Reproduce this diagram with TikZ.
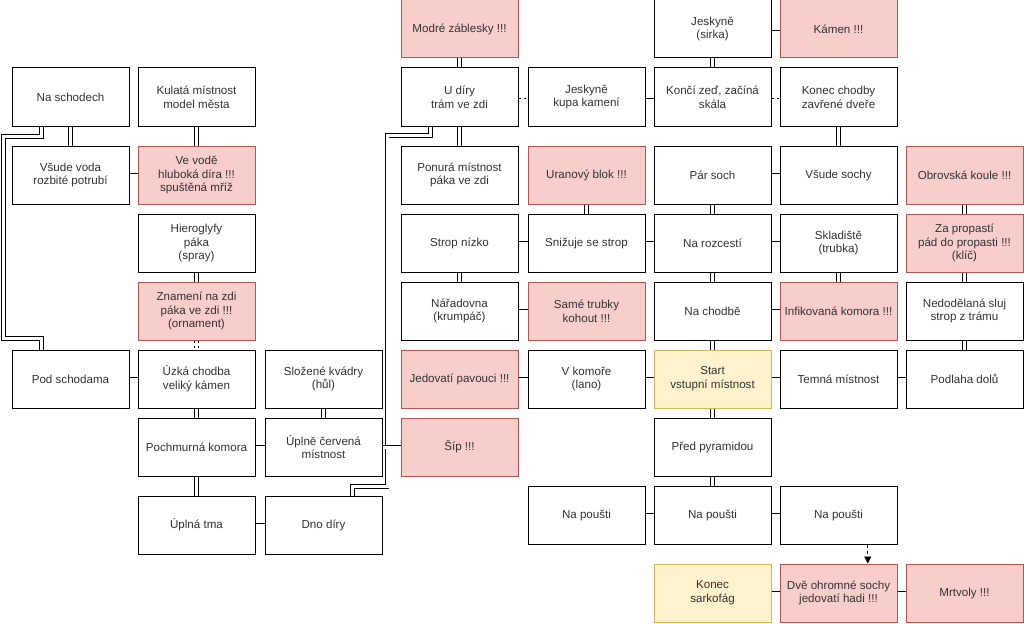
\documentclass[tikz,border=0pt]{standalone}
\usepackage{fontspec}
\setmainfont{Liberation Sans}
\usetikzlibrary{arrows.meta}
\definecolor{redfill}{HTML}{F8CECC}
\definecolor{redline}{HTML}{B85450}
\definecolor{yelfill}{HTML}{FFF2CC}
\definecolor{yelline}{HTML}{D6B656}
\definecolor{txt}{HTML}{333333}
\begin{document}
\begin{tikzpicture}[x=1pt,y=-1pt,
  room/.style={draw=black, fill=white, line width=1pt, minimum width=117pt, minimum height=58pt,
    inner sep=1pt, align=center, text=txt, font=\fontsize{11.6}{13.8}\selectfont},
  danger/.style={room, draw=redline, fill=redfill},
  goal/.style={room, draw=yelline, fill=yelfill},
  link/.style={draw=black, line width=0.8pt, double=white, double distance=3pt},
  dlink/.style={link, dash pattern=on 2.5pt off 2.5pt},
  arr/.style={draw=black, line width=0.8pt, dash pattern=on 3pt off 3pt, -{Triangle[length=7pt,width=7pt]}}]
\useasboundingbox (0,0) rectangle (1024,623);
% left part
\node[room]   (A1) at (70.5,97)  {Na schodech};
\node[room]   (B1) at (196.5,97) {Kulatá místnost\\model města};
\node[room]   (A2) at (70.5,175) {Všude voda\\rozbité potrubí};
\node[danger] (B2) at (196.5,175) {Ve vodě\\hluboká díra !!!\\spuštěná mříž};
\node[room]   (B3) at (196.5,243) {Hieroglyfy\\páka\\(spray)};
\node[danger] (B4) at (196.5,311) {Znamení na zdi\\páka ve zdi !!!\\(ornament)};
\node[room]   (A5) at (70.5,379) {Pod schodama};
\node[room]   (B5) at (196.5,379) {Úzká chodba\\veliký kámen};
\node[room]   (C5) at (323.5,379) {Složené kvádry\\(hůl)};
\node[room]   (B6) at (196.5,447) {Pochmurná komora};
\node[room]   (C6) at (323.5,447) {Úplně červená\\místnost};
\node[room]   (B7) at (196.5,525) {Úplná tma};
\node[room]   (C7) at (323.5,525) {Dno díry};
% right part
\node[danger] (D0) at (459.5,29) {Modré záblesky !!!};
\node[room]   (F0) at (712.5,29) {Jeskyně\\(sirka)};
\node[danger] (G0) at (838.5,29) {Kámen !!!};
\node[room]   (D1) at (459.5,97) {U díry\\trám ve zdi};
\node[room]   (E1) at (586.5,97) {Jeskyně\\kupa kamení};
\node[room]   (F1) at (712.5,97) {Končí zeď, začíná\\skála};
\node[room]   (G1) at (838.5,97) {Konec chodby\\zavřené dveře};
\node[room]   (D2) at (459.5,175) {Ponurá místnost\\páka ve zdi};
\node[danger] (E2) at (586.5,175) {Uranový blok !!!};
\node[room]   (F2) at (712.5,175) {Pár soch};
\node[room]   (G2) at (838.5,175) {Všude sochy};
\node[danger] (H2) at (964.5,175) {Obrovská koule !!!};
\node[room]   (D3) at (459.5,243) {Strop nízko};
\node[room]   (E3) at (586.5,243) {Snižuje se strop};
\node[room]   (F3) at (712.5,243) {Na rozcestí};
\node[room]   (G3) at (838.5,243) {Skladiště\\(trubka)};
\node[danger] (H3) at (964.5,243) {Za propastí\\pád do propasti !!!\\(klíč)};
\node[room]   (D4) at (459.5,311) {Nářadovna\\(krumpáč)};
\node[danger] (E4) at (586.5,311) {Samé trubky\\kohout !!!};
\node[room]   (F4) at (712.5,311) {Na chodbě};
\node[danger] (G4) at (838.5,311) {Infikovaná komora !!!};
\node[room]   (H4) at (964.5,311) {Nedodělaná sluj\\strop z trámu};
\node[danger] (D5) at (459.5,379) {Jedovatí pavouci !!!};
\node[room]   (E5) at (586.5,379) {V komoře\\(lano)};
\node[goal]   (F5) at (712.5,379) {Start\\vstupní místnost};
\node[room]   (G5) at (838.5,379) {Temná místnost};
\node[room]   (H5) at (964.5,379) {Podlaha dolů};
\node[danger] (D6) at (459.5,447) {Šíp !!!};
\node[room]   (F6) at (712.5,447) {Před pyramidou};
\node[room]   (E7) at (586.5,515) {Na poušti};
\node[room]   (F7) at (712.5,515) {Na poušti};
\node[room]   (G7) at (838.5,515) {Na poušti};
\node[goal]   (F8) at (712.5,593) {Konec\\sarkofág};
\node[danger] (G8) at (838.5,593) {Dvě ohromné sochy\\jedovatí hadi !!!};
\node[danger] (H8) at (964.5,593) {Mrtvoly !!!};
% links left
\draw[link] (A1) -- (A2);
\draw[link] (B1) -- (B2);
\draw[link] (A2) -- (B2);
\draw[link] (B3) -- (B4);
\draw[dlink] (B4) -- (B5);
\draw[link] (A5) -- (B5);
\draw[link] (B5) -- (B6);
\draw[link] (C5) -- (C6);
\draw[link] (B6) -- (C6);
\draw[link] (B6) -- (B7);
\draw[link] (B7) -- (C7);
\draw[link] ([xshift=-29.25pt]A1.south) -- ++(0,10) -| (3.5,338.7) -| ([xshift=-29.25pt]A5.north);
\draw[link] ([xshift=29.25pt]C7.north) -- ++(0,-9.3) -| (387,135.5) -| ([xshift=-29.25pt]D1.south);
\draw[link] (C6) -- (D6);
% links right
\draw[link] (D0) -- (D1);
\draw[link] (D1) -- (D2);
\draw[dlink] (D1) -- (E1);
\draw[link] (E1) -- (F1);
\draw[link] (F0) -- (F1);
\draw[link] (F0) -- (G0);
\draw[dlink] (F1) -- (G1);
\draw[link] (G1) -- (G2);
\draw[link] (F2) -- (G2);
\draw[link] (F2) -- (F3);
\draw[link] (E2) -- (E3);
\draw[link] (D3) -- (E3);
\draw[link] (E3) -- (F3);
\draw[link] (F3) -- (G3);
\draw[link] (F3) -- (F4);
\draw[link] (G3) -- (G4);
\draw[link] (H2) -- (H3);
\draw[link] (H3) -- (H4);
\draw[link] (D3) -- (D4);
\draw[link] (D4) -- (E4);
\draw[link] (F4) -- (G4);
\draw[link] (F4) -- (F5);
\draw[link] (H4) -- (H5);
\draw[link] (D5) -- (E5);
\draw[link] (E5) -- (F5);
\draw[link] (F5) -- (G5);
\draw[link] (G5) -- (H5);
\draw[link] (F5) -- (F6);
\draw[link] (F6) -- (F7);
\draw[link] (E7) -- (F7);
\draw[link] (F7) -- (G7);
\draw[link] (F8) -- (G8);
\draw[link] (G8) -- (H8);
\draw[arr] ([xshift=29.25pt]G7.south) -- ([xshift=29.25pt]G8.north);
\end{tikzpicture}
\end{document}
